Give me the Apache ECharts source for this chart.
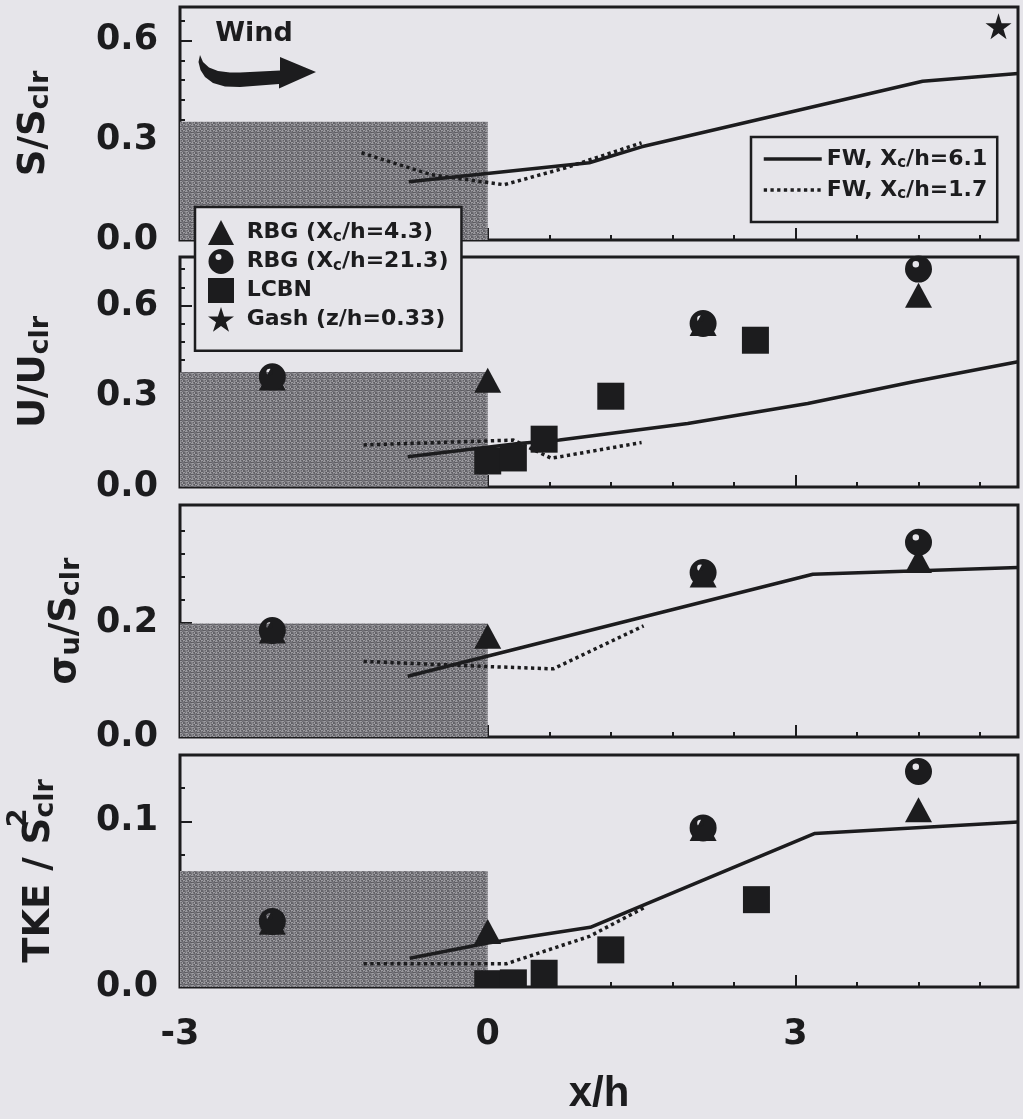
<!DOCTYPE html>
<html>
<head>
<meta charset="utf-8">
<script src="https://cdn.jsdelivr.net/npm/echarts@6/dist/echarts.min.js"></script>
<style>
  html, body { margin: 0; padding: 0; background: #e6e5ea; }
  #chart { width: 1023px; height: 1119px; }
</style>
</head>
<body>
<div id="chart"></div>
<script>
// ---- data -------------------------------------------------------------
const xMin = -3, xMax = 5.17;
const xMajorTicks = [-3, 0, 3];
const xMinorTicks = [-2.4, -1.8, -1.2, -0.6, 0.6, 1.2, 1.8, 2.4, 3.6, 4.2, 4.8];

const yMax = [0.7, 0.76, 0.405, 0.14];
const yMajorTicks = [[0, 0.3, 0.6], [0, 0.3, 0.6], [0, 0.2], [0, 0.1]];
const yMinorTicks = [
  [0.06, 0.12, 0.18, 0.24, 0.36, 0.42, 0.48, 0.54, 0.66],
  [0.06, 0.12, 0.18, 0.24, 0.36, 0.42, 0.48, 0.54, 0.66, 0.72],
  [0.04, 0.08, 0.12, 0.16, 0.24, 0.28, 0.32, 0.36],
  [0.02, 0.04, 0.06, 0.08, 0.12]
];
const yNames = ['S/S{s|clr}', 'U/U{s|clr}', 'σ{s|u}/S{s|clr}', 'TKE / S{p|2}{s|clr}'];

// canopy (forest) height drawn as the shaded block, x from xMin to 0
const canopyTop = [0.355, 0.38, 0.198, 0.070];

const nameFW61 = 'FW, Xc/h=6.1';
const nameFW17 = 'FW, Xc/h=1.7';
const nameRBG43 = 'RBG (Xc/h=4.3)';
const nameRBG213 = 'RBG (Xc/h=21.3)';
const nameLCBN = 'LCBN';
const nameGash = 'Gash (z/h=0.33)';

// S/Sclr
const sFW61 = [[-0.77, 0.175], [0.99, 0.232], [1.5, 0.28], [4.24, 0.477], [5.17, 0.50]];
const sFW17 = [[-1.23, 0.262], [-0.55, 0.196], [0.16, 0.166], [0.76, 0.217], [1.5, 0.292]];
const sGash = [[4.98, 0.642]];

// U/Uclr
const uFW61 = [[-0.78, 0.10], [0.3, 0.144], [0.7, 0.155], [1.95, 0.21], [3.12, 0.276], [4.15, 0.348], [5.17, 0.414]];
const uFW17 = [[-1.21, 0.139], [0.25, 0.155], [0.62, 0.095], [1.5, 0.147]];
const uRBG43 = [[-2.1, 0.36], [0, 0.353], [2.1, 0.54], [4.2, 0.634]];
const uRBG213 = [[-2.1, 0.364], [2.1, 0.54], [4.2, 0.72]];
const uLCBN = [[0, 0.086], [0.25, 0.096], [0.55, 0.158], [1.2, 0.30], [2.61, 0.485]];

// sigma_u/Sclr
const sigFW61 = [[-0.78, 0.106], [3.17, 0.284], [5.17, 0.296]];
const sigFW17 = [[-1.21, 0.132], [0, 0.123], [0.64, 0.119], [1.52, 0.194]];
const sigRBG43 = [[-2.1, 0.185], [0, 0.176], [2.1, 0.283], [4.2, 0.308]];
const sigRBG213 = [[-2.1, 0.186], [2.1, 0.287], [4.2, 0.34]];

// TKE/S^2clr
const tkeFW61 = [[-0.76, 0.0174], [0, 0.0265], [1.0, 0.036], [3.19, 0.0927], [5.17, 0.0996]];
const tkeFW17 = [[-1.21, 0.014], [0.18, 0.014], [0.99, 0.0305], [1.52, 0.0477]];
const tkeRBG43 = [[-2.1, 0.039], [0, 0.0335], [2.1, 0.0957], [4.2, 0.107]];
const tkeRBG213 = [[-2.1, 0.0396], [2.1, 0.096], [4.2, 0.130]];
const tkeLCBN = [[0, 0.002], [0.25, 0.0025], [0.55, 0.0083], [1.2, 0.0224], [2.62, 0.0527]];

// ---- styling ----------------------------------------------------------
const BG = '#e6e5ea';
const INK = '#1c1c1e';
const WIDE = '"DejaVu Sans", sans-serif';
const ARIAL = '"Liberation Sans", Arial, sans-serif';
const SQ = 27; // LCBN square size
const LINE_W = 3.5;
const DOTS = [3.3, 3.4];

const panels = [
  { fw61: sFW61, fw17: sFW17, rbg43: [], rbg213: [], lcbn: [], gash: sGash },
  { fw61: uFW61, fw17: uFW17, rbg43: uRBG43, rbg213: uRBG213, lcbn: uLCBN, gash: [] },
  { fw61: sigFW61, fw17: sigFW17, rbg43: sigRBG43, rbg213: sigRBG213, lcbn: [], gash: [] },
  { fw61: tkeFW61, fw17: tkeFW17, rbg43: tkeRBG43, rbg213: tkeRBG213, lcbn: tkeLCBN, gash: [] }
];

const gridTop = [7, 257, 505, 755];
const gridHeight = [233, 230, 232, 232];
const nameGap = [127, 127, 96, 122];

// grainy halftone used for the canopy block
const tex = document.createElement('canvas');
tex.width = 6; tex.height = 6;
(function () {
  const g = tex.getContext('2d');
  const shades = ['#5f5e63', '#9a999e', '#75747a', '#8a898e', '#68676d', '#a09fa4',
                  '#908f94', '#646369', '#9c9ba0', '#706f75', '#858489', '#5b5a5f'];
  for (let r = 0; r < 6; r++) {
    for (let c = 0; c < 6; c++) {
      g.fillStyle = shades[(r * 5 + c * 7 + ((r * c) % 3)) % shades.length];
      g.fillRect(c, r, 1, 1);
    }
  }
})();

const CIRCLE = 'path://M50,0A50,50 0 1,1 50,100A50,50 0 1,1 50,0ZM40,20A12,12 0 1,0 40,44A12,12 0 1,0 40,20Z';
const STAR = 'path://M50,2L61.2,36.5L97.5,36.5L68.1,57.8L79.4,92.4L50,71L20.6,92.4L31.9,57.8L2.5,36.5L38.8,36.5Z';

const subRich = {
  s: { fontFamily: WIDE, fontWeight: 'bold', fontSize: 27, lineHeight: 27, padding: [12, 0, 0, 0], color: INK },
  p: { fontFamily: WIDE, fontWeight: 'bold', fontSize: 27, lineHeight: 27, padding: [0, 0, 42, 0], width: 0, color: INK }
};

const grids = [], xAxes = [], yAxes = [], series = [];

panels.forEach((pn, i) => {
  grids.push({
    left: 180, width: 838, top: gridTop[i], height: gridHeight[i],
    show: true, backgroundColor: BG, borderColor: INK, borderWidth: 3,
    outerBoundsMode: 'none', containLabel: false
  });

  const tickLine = { color: INK, width: 2 };
  // major x axis (labels on the bottom panel only)
  xAxes.push({
    type: 'value', gridIndex: i, min: xMin, max: xMax, position: 'bottom',
    axisLine: { show: false, onZero: false },
    splitLine: { show: false },
    axisTick: { show: true, inside: true, length: 12, lineStyle: tickLine, customValues: xMajorTicks },
    axisLabel: {
      show: i === 3, customValues: xMajorTicks, margin: 30,
      fontFamily: WIDE, fontWeight: 'bold', fontSize: 35, color: INK,
      formatter: v => String(v)
    },
    name: i === 3 ? 'x/h' : '', nameLocation: 'middle', nameGap: 86,
    nameTextStyle: { fontFamily: ARIAL, fontWeight: 'bold', fontSize: 42, color: INK }
  });
  // minor x ticks
  xAxes.push({
    type: 'value', gridIndex: i, min: xMin, max: xMax, position: 'bottom',
    axisLine: { show: false, onZero: false }, splitLine: { show: false },
    axisTick: { show: true, inside: true, length: 5, lineStyle: tickLine, customValues: xMinorTicks },
    axisLabel: { show: false }
  });
  // major y axis with the panel title
  yAxes.push({
    type: 'value', gridIndex: i, min: 0, max: yMax[i], position: 'left',
    axisLine: { show: false, onZero: false }, splitLine: { show: false },
    axisTick: { show: true, inside: true, length: 12, lineStyle: tickLine, customValues: yMajorTicks[i] },
    axisLabel: {
      customValues: yMajorTicks[i], margin: 22,
      fontFamily: WIDE, fontWeight: 'bold', fontSize: 35, color: INK,
      formatter: v => v.toFixed(1)
    },
    name: yNames[i], nameLocation: 'middle', nameRotate: 90, nameGap: nameGap[i],
    nameTextStyle: {
      fontFamily: WIDE, fontWeight: 'bold', fontSize: 37, lineHeight: 37, color: INK, rich: subRich
    }
  });
  // minor y ticks
  yAxes.push({
    type: 'value', gridIndex: i, min: 0, max: yMax[i], position: 'left',
    axisLine: { show: false, onZero: false }, splitLine: { show: false },
    axisTick: { show: true, inside: true, length: 5, lineStyle: tickLine, customValues: yMinorTicks[i] },
    axisLabel: { show: false }
  });

  const xi = 2 * i, yi = 2 * i;
  series.push({
    name: nameFW61, type: 'line', xAxisIndex: xi, yAxisIndex: yi,
    data: pn.fw61, symbol: 'none', showSymbol: false, z: 3,
    lineStyle: { color: INK, width: LINE_W }, itemStyle: { color: INK },
    markArea: {
      silent: true, label: { show: false },
      itemStyle: { color: { image: tex, repeat: 'repeat' }, borderWidth: 0 },
      data: [[{ coord: [xMin, 0] }, { coord: [0, canopyTop[i]] }]]
    }
  });
  series.push({
    name: nameFW17, type: 'line', xAxisIndex: xi, yAxisIndex: yi,
    data: pn.fw17, symbol: 'none', showSymbol: false, z: 3,
    lineStyle: { color: INK, width: LINE_W, type: DOTS }, itemStyle: { color: INK }
  });
  series.push({
    name: nameRBG43, type: 'scatter', xAxisIndex: xi, yAxisIndex: yi,
    data: pn.rbg43, symbol: 'triangle', symbolSize: [27, 25], z: 4,
    itemStyle: { color: INK, opacity: 1 }
  });
  series.push({
    name: nameRBG213, type: 'scatter', xAxisIndex: xi, yAxisIndex: yi,
    data: pn.rbg213, symbol: CIRCLE, symbolSize: 27, z: 5,
    itemStyle: { color: INK, opacity: 1 }
  });
  // squares are clipped by the panel frame
  series.push({
    name: nameLCBN, type: 'custom', xAxisIndex: xi, yAxisIndex: yi,
    data: pn.lcbn, clip: true, z: 6,
    itemStyle: { color: INK },
    renderItem: (params, api) => {
      const p = api.coord([api.value(0), api.value(1)]);
      return {
        type: 'rect',
        shape: { x: p[0] - SQ / 2, y: p[1] - SQ / 2, width: SQ, height: SQ },
        style: { fill: INK }
      };
    }
  });
  series.push({
    name: nameGash, type: 'scatter', xAxisIndex: xi, yAxisIndex: yi,
    data: pn.gash, symbol: STAR, symbolSize: 26, z: 6,
    itemStyle: { color: INK, opacity: 1 }
  });
});

const legendText = {
  fontFamily: WIDE, fontWeight: 'bold', fontSize: 22, lineHeight: 24, color: INK,
  rich: { s: { fontFamily: WIDE, fontWeight: 'bold', fontSize: 15, lineHeight: 15, padding: [9, 0, 0, 0], color: INK } }
};
const legendFormatter = name => name.replace('Xc', 'X{s|c}');

// curved "wind" arrow outline
const windArrow = [
  [200, 55], [203, 62], [209, 67.5], [218, 71], [230, 72.5], [240, 72.5], [280, 70.5],
  [280, 57], [316, 72], [279, 88.5], [279, 84], [240, 87], [225, 86.5], [213, 83],
  [205, 77], [200.5, 70], [198.5, 62]
];

const option = {
  backgroundColor: BG,
  animation: false,
  grid: grids,
  xAxis: xAxes,
  yAxis: yAxes,
  series: series,
  legend: [
    {
      data: [nameRBG43, nameRBG213, { name: nameLCBN, icon: 'rect' }, nameGash],
      orient: 'vertical', left: 195, top: 207,
      padding: [13, 13, 19, 13], itemGap: 4, itemWidth: 26, itemHeight: 25,
      backgroundColor: BG, borderColor: INK, borderWidth: 2.5,
      selectedMode: false, z: 10,
      itemStyle: { color: INK },
      textStyle: legendText, formatter: name => ' ' + legendFormatter(name)
    },
    {
      data: [
        { name: nameFW61, lineStyle: { color: INK, width: LINE_W, type: 'solid' } },
        { name: nameFW17, lineStyle: { color: INK, width: LINE_W, type: DOTS } }
      ],
      orient: 'vertical', left: 751, top: 137,
      padding: [10, 10, 20, 11], itemGap: 7, itemWidth: 58, itemHeight: 24,
      backgroundColor: BG, borderColor: INK, borderWidth: 2.5,
      selectedMode: false, z: 10,
      itemStyle: { color: 'rgba(0,0,0,0)', borderColor: 'rgba(0,0,0,0)', borderWidth: 0 },
      textStyle: legendText, formatter: legendFormatter
    }
  ],
  graphic: [
    {
      type: 'text', z: 20,
      style: { text: 'Wind', x: 254, y: 34, align: 'center', verticalAlign: 'middle',
               font: 'bold 27px "DejaVu Sans", sans-serif', fill: INK }
    },
    {
      type: 'polygon', z: 20,
      shape: { points: windArrow },
      style: { fill: INK }
    }
  ]
};

const chart = echarts.init(document.getElementById('chart'), null, { renderer: 'canvas' });
chart.setOption(option);
</script>
</body>
</html>
